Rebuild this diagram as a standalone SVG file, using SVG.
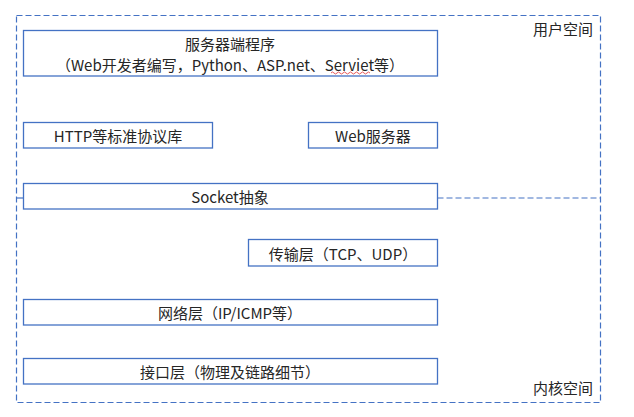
<svg xmlns="http://www.w3.org/2000/svg" width="634" height="417" viewBox="0 0 634 417">
  <style>
    .box { fill: #ffffff; stroke: #4472C4; stroke-width: 1.3; }
    .frame { fill: none; stroke: #4472C4; stroke-width: 1.2; stroke-dasharray: 6 3; }
    .t { font-family: "Noto Sans CJK SC", "Liberation Sans", sans-serif; font-size: 15px; fill: #262626; text-anchor: middle; dominant-baseline: central; }
    .lbl { font-family: "Noto Sans CJK SC", "Liberation Sans", sans-serif; font-size: 15px; fill: #262626; text-anchor: end; dominant-baseline: central; }
  </style>
  <rect width="634" height="417" fill="#ffffff"/>
  <g id="frame">
    <rect class="frame" x="16.5" y="15.5" width="584" height="387"/>
    <text class="lbl" x="593" y="28">用户空间</text>
    <text class="lbl" x="593" y="387">内核空间</text>
  </g>
  <g id="connectors">
    <line x1="16.5" y1="198" x2="23.5" y2="198" stroke="#4472C4" stroke-width="1.2"/>
    <line class="frame" x1="437.5" y1="198" x2="600.5" y2="198"/>
  </g>
  <g id="server-app">
    <rect class="box" x="23.5" y="30.5" width="414" height="45.5"/>
    <text class="t" x="230" y="43">服务器端程序</text>
    <text class="t" x="230" y="64.5">（Web开发者编写，Python、ASP.net、Serviet等）</text>
    <path d="M331 73 q1.5 -2 3 0 t3 0 t3 0 t3 0 t3 0 t3 0 t3 0 t3 0 t3 0 t3 0 t3 0 t3 0 t3 0" fill="none" stroke="#e03030" stroke-width="0.8"/>
  </g>
  <g id="http-lib">
    <rect class="box" x="23.5" y="122.5" width="189" height="25.5"/>
    <text class="t" x="118" y="135">HTTP等标准协议库</text>
  </g>
  <g id="web-server">
    <rect class="box" x="308.5" y="122.5" width="129" height="25.5"/>
    <text class="t" x="373" y="135">Web服务器</text>
  </g>
  <g id="socket">
    <rect class="box" x="23.5" y="183.5" width="414" height="25.5"/>
    <text class="t" x="230" y="196">Socket抽象</text>
  </g>
  <g id="transport">
    <rect class="box" x="248.5" y="239.5" width="189" height="26.5"/>
    <text class="t" x="343" y="253">传输层（TCP、UDP）</text>
  </g>
  <g id="network">
    <rect class="box" x="23.5" y="299.5" width="414" height="25.5"/>
    <text class="t" x="230" y="312">网络层（IP/ICMP等）</text>
  </g>
  <g id="interface">
    <rect class="box" x="23.5" y="358.5" width="414" height="25.5"/>
    <text class="t" x="230" y="371">接口层（物理及链路细节）</text>
  </g>
</svg>
